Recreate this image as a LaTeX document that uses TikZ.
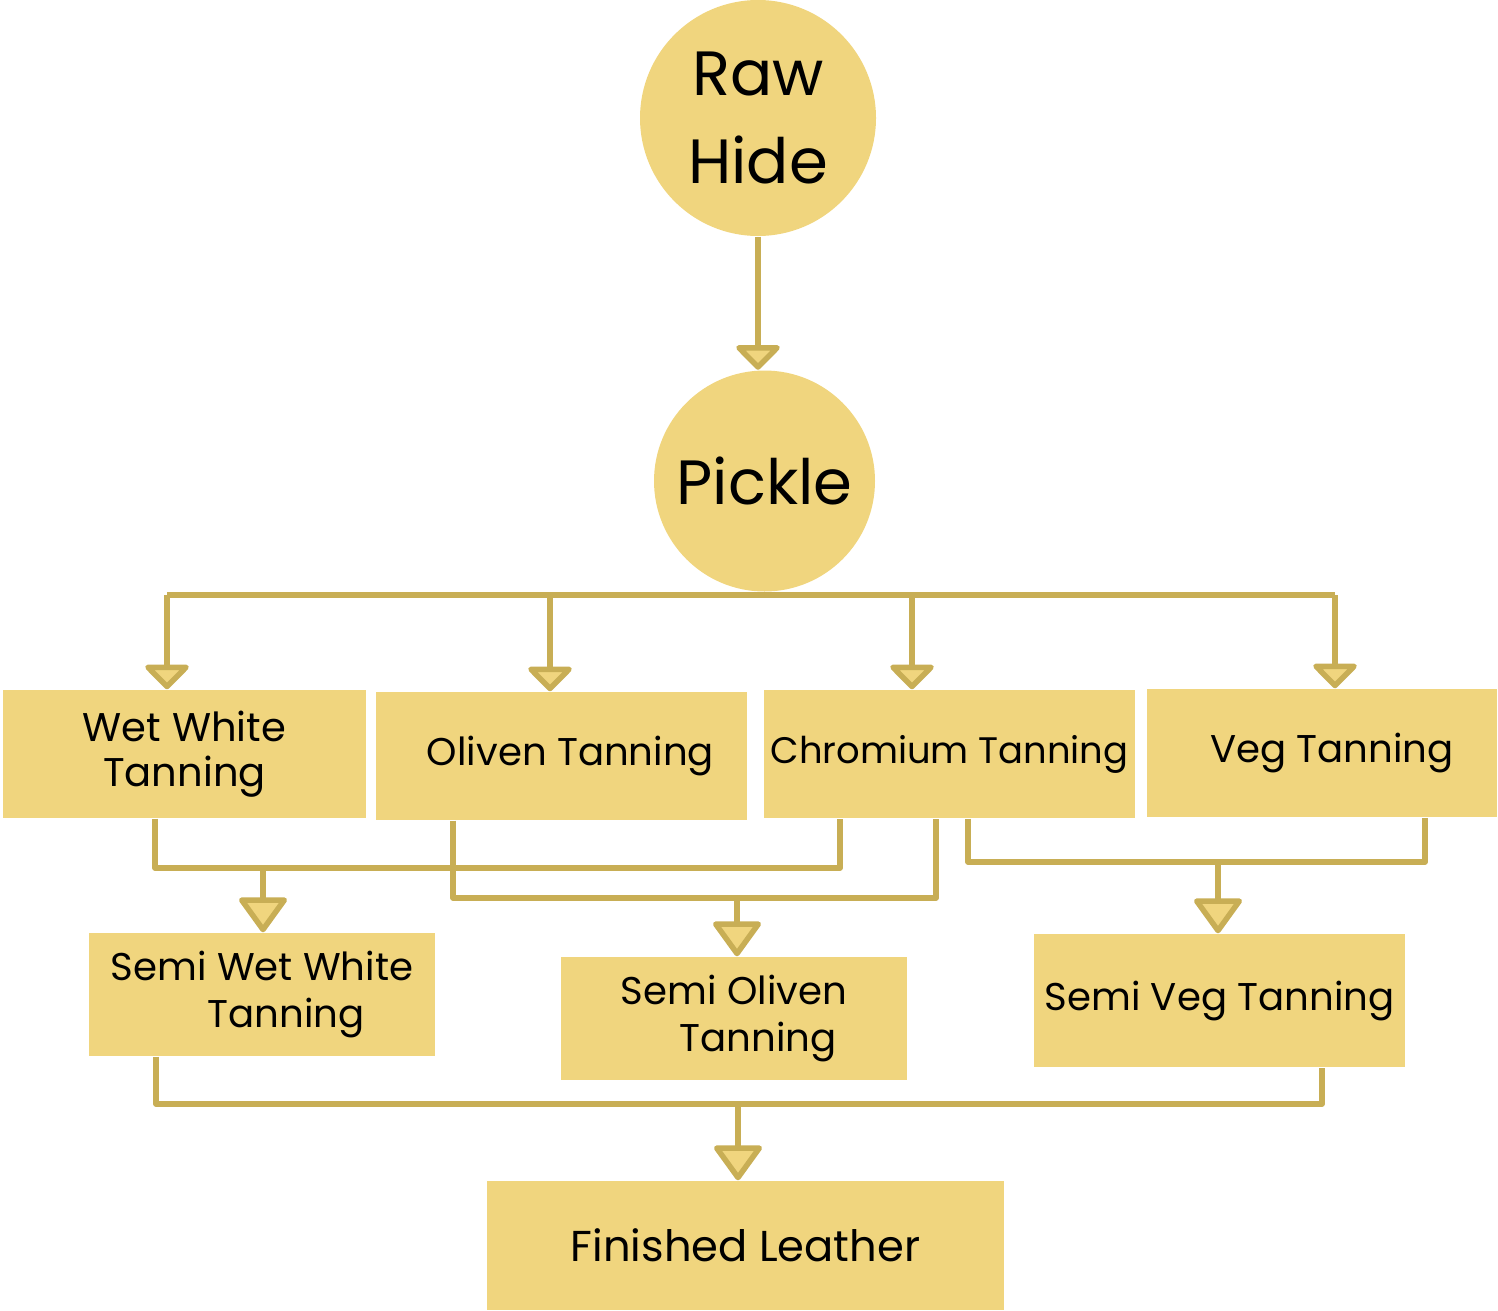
\documentclass[tikz,border=0pt]{standalone}
\usepackage{fontspec}
\setmainfont{Poppins}
\usepackage{tikz}
\usetikzlibrary{arrows.meta, positioning, calc}
\definecolor{hidefill}{HTML}{F0D57E}
\definecolor{hideline}{HTML}{C8AE55}

\begin{document}
\begin{tikzpicture}[
  stage/.style={rectangle, fill=hidefill, minimum height=1.28cm,
                text centered, align=center, font=\fontsize{11}{13.2}\selectfont,
                inner sep=0pt},
  blob/.style={circle, fill=hidefill, text centered, align=center,
               inner sep=0pt, font=\fontsize{17.8}{25}\selectfont},
  wire/.style={draw=hideline, line width=0.055cm, line join=round},
  flow/.style={wire, -{Triangle[width=5mm, length=2.6mm, fill=hidefill, round]}},
  bigflow/.style={wire, -{Triangle[width=5.2mm, length=3.7mm, fill=hidefill, round]}}
]
\useasboundingbox (0,0) rectangle (14.98,-13.10);

% circles
\node[blob, minimum size=2.36cm] (rawhide) at (7.58,-1.18) {Raw\\Hide};
\node[blob, minimum size=2.21cm] (pickle) at (7.645,-4.81) {Pickle};
\draw[flow] (rawhide.south) -- (rawhide.south |- pickle.north);

% tanning methods
\node[stage, minimum width=3.63cm, font=\fontsize{11.4}{13}\selectfont] (wetwhite) at (1.845,-7.54) {Wet White\\Tanning};
\node[stage, minimum width=3.71cm] (oliven) at (5.615,-7.56) {\hspace*{0.18cm}Oliven Tanning};
\node[stage, minimum width=3.71cm, font=\fontsize{10.5}{13}\selectfont] (chromium) at (9.495,-7.54) {Chromium Tanning};
\node[stage, minimum width=3.50cm] (veg) at (13.22,-7.53) {\hspace*{0.2cm}Veg Tanning};

% bus below pickle
\coordinate (b1) at (1.67,-5.95);
\coordinate (b2) at (5.50,-5.95);
\coordinate (b3) at (9.12,-5.95);
\coordinate (b4) at (13.35,-5.95);
\draw[wire] (b1) -- (b4);
\draw[flow] (b1) -- (b1 |- wetwhite.north);
\draw[flow] (b2) -- (b2 |- oliven.north);
\draw[flow] (b3) -- (b3 |- chromium.north);
\draw[flow] (b4) -- (b4 |- veg.north);

% semi tanning
\node[stage, minimum width=3.46cm, minimum height=1.23cm] (semiwet) at (2.62,-9.945)
  {Semi Wet White\\\hspace*{0.48cm}Tanning};
\node[stage, minimum width=3.46cm, minimum height=1.23cm] (semioliven) at (7.34,-10.185)
  {Semi Oliven\\\hspace*{0.48cm}Tanning};
\node[stage, minimum width=3.71cm, minimum height=1.33cm] (semiveg) at (12.195,-10.005)
  {Semi Veg Tanning};

\coordinate (jA) at (2.63,-8.68);
\coordinate (jB) at (7.37,-8.98);
\coordinate (jC) at (12.18,-8.62);
\draw[wire] ([xshift=-2.95mm]wetwhite.south) |- (jA) -| ([xshift=-10.95mm]chromium.south);
\draw[wire] ([xshift=-10.85mm]oliven.south) |- (jB) -| ([xshift=-1.35mm]chromium.south);
\draw[wire] ([xshift=1.85mm]chromium.south) |- (jC) -| ([xshift=10.3mm]veg.south);
\draw[bigflow] (jA) -- (jA |- semiwet.north);
\draw[bigflow] (jB) -- (jB |- semioliven.north);
\draw[bigflow] (jC) -- (jC |- semiveg.north);

% finished
\node[stage, minimum width=5.17cm, minimum height=1.29cm, font=\fontsize{12.3}{15}\selectfont] (finished) at (7.455,-12.455)
  {Finished Leather};
\coordinate (jD) at (7.38,-11.04);
\draw[wire] ([xshift=-10.6mm]semiwet.south) |- (jD) -| ([xshift=10.25mm]semiveg.south);
\draw[bigflow] (jD) -- (jD |- finished.north);

\end{tikzpicture}
\end{document}
